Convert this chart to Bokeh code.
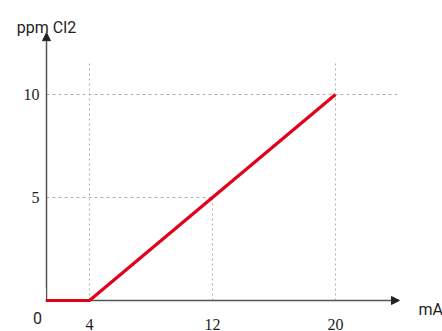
from bokeh.plotting import figure
from bokeh.models import Range1d, Arrow, NormalHead, LabelSet, Label, ColumnDataSource
from bokeh.embed import file_html
from bokeh.resources import INLINE

# data
x_ma = [0, 4, 20]
y_ppm = [0, 0, 10]
x_ticks = [4, 12, 20]
x_tick_labels = ["4", "12", "20"]
y_ticks = [5, 10]
y_tick_labels = ["5", "10"]
x_title = "mA"
y_title = "ppm Cl2"

# view window (frame covers whole canvas)
X0, X1 = -1.7886, 26.959
Y0, Y1 = -1.505, 14.563
AX = 1.2033        # where the vertical axis sits
XEND, YEND = 24.16, 13.0

p = figure(width=442, height=331, output_backend="svg", toolbar_location=None,
           x_range=Range1d(X0, X1), y_range=Range1d(Y0, Y1),
           min_border_left=0, min_border_right=0, min_border_top=0, min_border_bottom=0)
p.xaxis.visible = False
p.yaxis.visible = False
p.grid.visible = False
p.outline_line_color = None
p.background_fill_color = "white"
p.border_fill_color = "white"

grid_col = "#b0b0b0"
p.segment(x0=[AX, AX], y0=[10, 5], x1=[24.1, 12], y1=[10, 5],
          line_color=grid_col, line_width=1, line_dash="3 3", level="underlay")
p.segment(x0=[4, 20, 12], y0=[0, 0, 0], x1=[4, 20, 12], y1=[11.55, 11.55, 5],
          line_color=grid_col, line_width=1, line_dash="2 3", level="underlay")

axcol = "#555555"
p.add_layout(Arrow(x_start=AX, y_start=0, x_end=AX, y_end=YEND, line_color=axcol, line_width=1.5,
                   level="underlay",
                   end=NormalHead(size=8, fill_color="#222222", line_color="#222222")))
p.add_layout(Arrow(x_start=AX, y_start=0, x_end=XEND, y_end=0, line_color=axcol, line_width=1.5,
                   level="underlay",
                   end=NormalHead(size=8, fill_color="#222222", line_color="#222222")))

# data line
p.line(x_ma, y_ppm, line_color="#e2001a", line_width=3.2)
# mask anything left of the vertical axis
p.quad(left=[X0], right=[AX - 0.05], bottom=[-0.6], top=[0.6], fill_color="white", line_color=None)

font = "Roboto"
tc = "#1e1e1e"
xs = ColumnDataSource(dict(x=x_ticks, y=[0] * len(x_ticks), t=x_tick_labels))
p.add_layout(LabelSet(x="x", y="y", text="t", source=xs, y_offset=-29.5, text_align="center",
                      text_baseline="alphabetic", text_font=font, text_font_size="16px", text_color=tc))
ys = ColumnDataSource(dict(x=[AX] * len(y_ticks), y=y_ticks, t=y_tick_labels))
p.add_layout(LabelSet(x="x", y="y", text="t", source=ys, x_offset=-7, y_offset=-5.5, text_align="right",
                      text_baseline="alphabetic", text_font=font, text_font_size="16px", text_color=tc))
p.add_layout(Label(x=AX, y=0, text="0", x_offset=-9, y_offset=-17.5, text_align="center",
                   text_baseline="alphabetic", text_font=font, text_font_size="16px", text_color=tc))
p.add_layout(Label(x=AX, y=YEND, text=y_title, x_offset=0, y_offset=5, text_align="center",
                   text_baseline="alphabetic", text_font=font, text_font_size="16px", text_color=tc))
p.add_layout(Label(x=XEND, y=0, text=x_title, x_offset=19, y_offset=-9, text_align="left",
                   text_baseline="alphabetic", text_font=font, text_font_size="16px", text_color=tc))

open("out.html", "w").write(file_html(p, INLINE))
